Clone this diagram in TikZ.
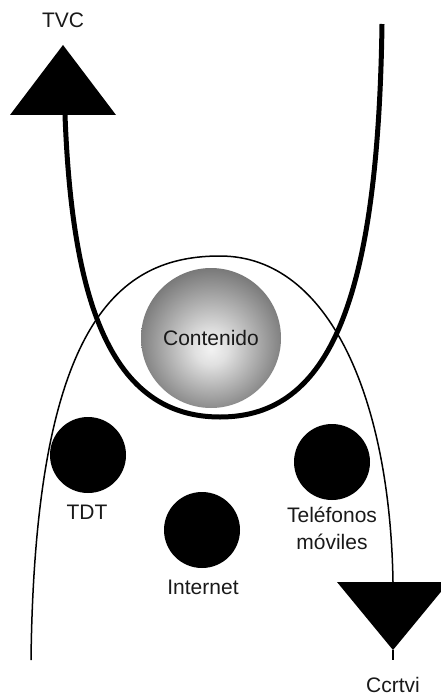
\documentclass[tikz,border=0pt]{standalone}
\usepackage{fontspec}
\setmainfont{Liberation Sans}
\pgfdeclareradialshading{sphereshade}{\pgfpoint{0bp}{-4bp}}{color(0bp)=(black!5); color(6bp)=(black!12); color(28bp)=(black!55); color(44bp)=(black!75); color(50bp)=(black!85)}
\tikzset{
  lbl/.style={font=\fontsize{21}{27}\selectfont, inner sep=0pt, align=center, text=black!90},
  dot/.style={circle, fill=black, minimum size=76pt, inner sep=0pt},
  thickline/.style={line width=5pt},
  thinline/.style={line width=1.5pt},
}
\begin{document}
\begin{tikzpicture}[x=1pt,y=-1pt]
\useasboundingbox (0,0) rectangle (441,698);
% coordinates
\coordinate (tvcapex) at (63,45);
\coordinate (tvcbl) at (10,115);
\coordinate (tvcbr) at (116,115);
\coordinate (tvcbase) at (65,115);
\coordinate (utop) at (382,24);
\coordinate (ubot) at (220,417);
\coordinate (pleft) at (31,660);
\coordinate (ptop) at (220,256);
\coordinate (pright) at (393,582);
\coordinate (ccbl) at (337,582);
\coordinate (ccbr) at (449,582);
\coordinate (ccapex) at (393,650);
\coordinate (ccstem) at (393,660);
% thin inverted U
\draw[thinline] (pleft) .. controls (35,320) and (120,256) .. (ptop)
  .. controls (330,256) and (390,400) .. (pright);
% sphere
\node[circle, minimum size=140pt, inner sep=0pt, shading=sphereshade] (cont) at (211,338) {};
\node[lbl] (conttxt) at (cont) {Contenido};
% thick U
\draw[thickline] (tvcbase) .. controls (72,300) and (110,417) .. (ubot)
  .. controls (330,417) and (378,300) .. (utop);
% triangles
\fill (tvcapex) -- (tvcbl) -- (tvcbr) -- cycle;
\fill (ccbl) -- (ccbr) -- (ccapex) -- cycle;
\draw[thinline] (ccapex) -- (ccstem);
% labels
\node[lbl] (tvc) at (63,20) {TVC};
\node[lbl] (ccrtvi) at (393,685) {Ccrtvi};
% dots
\node[dot] (tdt) at (88,455) {};
\node[dot] (inet) at (202,530) {};
\node[dot] (tel) at (332,462) {};
\node[lbl] (tdttxt) at (87,512) {TDT};
\node[lbl] (inettxt) at (203,587) {Internet};
\node[lbl] (teltxt) at (332,528) {Teléfonos\\móviles};
\end{tikzpicture}
\end{document}
